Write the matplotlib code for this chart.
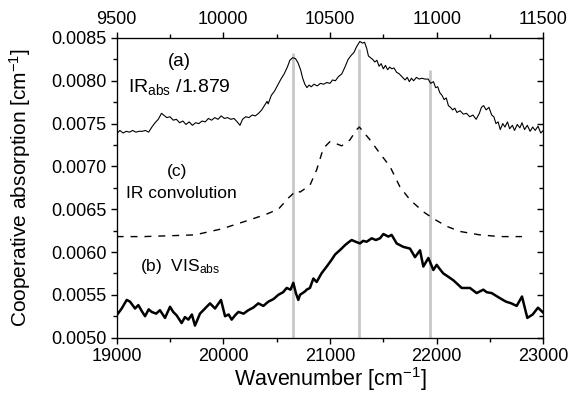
import numpy as np
import matplotlib
matplotlib.use('Agg')
import matplotlib.pyplot as plt
from matplotlib.ticker import MultipleLocator, FormatStrFormatter, NullFormatter

plt.rcParams['font.family'] = ['Liberation Sans', 'DejaVu Sans']
plt.rcParams['mathtext.fontset'] = 'custom'
plt.rcParams['mathtext.rm'] = 'Liberation Sans'
plt.rcParams['mathtext.default'] = 'regular'

# (a) IR absorption / 1.879, plotted against the top axis (9500-11500 cm-1)
ir_wn = [9500, 9515, 9530, 9545, 9560, 9575, 9590, 9605, 9620, 9635, 9650, 9665, 9680, 9695,
         9710, 9720, 9735, 9750, 9765, 9780, 9795, 9810, 9825, 9840, 9855, 9870, 9885, 9900,
         9915, 9930, 9945, 9960, 9975, 9990, 10005, 10020, 10035, 10050, 10065, 10078, 10090,
         10105, 10120, 10135, 10150, 10165, 10180, 10195, 10205, 10210, 10225, 10240, 10255,
         10270, 10285, 10300, 10312, 10325, 10338, 10350, 10362, 10372, 10382, 10392, 10402,
         10412, 10425, 10440, 10455, 10470, 10485, 10500, 10512, 10525, 10540, 10555, 10570,
         10585, 10600, 10612, 10625, 10640, 10652, 10662, 10672, 10680, 10690, 10700, 10710,
         10720, 10730, 10740, 10750, 10760, 10770, 10780, 10790, 10800, 10812, 10825, 10840,
         10852, 10862, 10872, 10882, 10892, 10905, 10918, 10930, 10945, 10960, 10972, 10985,
         10995, 11005, 11015, 11025, 11035, 11045, 11055, 11065, 11075, 11085, 11095, 11110,
         11125, 11140, 11155, 11170, 11185, 11200, 11210, 11220, 11232, 11245, 11258, 11268,
         11278, 11288, 11298, 11310, 11320, 11332, 11342, 11355, 11365, 11378, 11390, 11400,
         11412, 11425, 11438, 11450, 11462, 11475, 11488, 11500]
ir_abs = [0.00738, 0.00742, 0.00739, 0.00741, 0.00740, 0.00742, 0.00740, 0.00741, 0.00741,
          0.00742, 0.00740, 0.00746, 0.00751, 0.00755, 0.00762, 0.00760, 0.00757, 0.00758,
          0.00754, 0.00755, 0.00751, 0.00753, 0.00749, 0.00752, 0.00748, 0.00751, 0.00750,
          0.00753, 0.00752, 0.00756, 0.00754, 0.00757, 0.00755, 0.00759, 0.00756, 0.00757,
          0.00755, 0.00756, 0.00752, 0.00748, 0.00755, 0.00758, 0.00757, 0.00760, 0.00759,
          0.00762, 0.00766, 0.00772, 0.00776, 0.00773, 0.00783, 0.00788, 0.00795, 0.00802,
          0.00808, 0.00816, 0.00824, 0.00827, 0.00826, 0.00821, 0.00813, 0.00803, 0.00796,
          0.00792, 0.00795, 0.00793, 0.00796, 0.00794, 0.00797, 0.00796, 0.00798, 0.00797,
          0.00801, 0.00800, 0.00805, 0.00808, 0.00816, 0.00825, 0.00830, 0.00833, 0.00840,
          0.00846, 0.00844, 0.00845, 0.00838, 0.00829, 0.00827, 0.00825, 0.00822, 0.00824,
          0.00817, 0.00820, 0.00814, 0.00818, 0.00813, 0.00816, 0.00814, 0.00815, 0.00810,
          0.00808, 0.00804, 0.00801, 0.00804, 0.00799, 0.00803, 0.00800, 0.00804, 0.00802,
          0.00803, 0.00802, 0.00802, 0.00797, 0.00799, 0.00792, 0.00793, 0.00786, 0.00783,
          0.00778, 0.00780, 0.00771, 0.00769, 0.00766, 0.00768, 0.00763, 0.00765, 0.00761,
          0.00762, 0.00758, 0.00760, 0.00755, 0.00762, 0.00769, 0.00771, 0.00766, 0.00769,
          0.00760, 0.00758, 0.00750, 0.00752, 0.00743, 0.00750, 0.00746, 0.00752, 0.00744,
          0.00748, 0.00742, 0.00749, 0.00745, 0.00751, 0.00743, 0.00748, 0.00741, 0.00746,
          0.00742, 0.00747, 0.00739, 0.00742]

# (c) IR convolution, bottom axis
conv_wn = [19000, 19250, 19500, 19734, 19984, 20234, 20400, 20516, 20609, 20687, 20719, 20812,
           20875, 20937, 21000, 21050, 21109, 21187, 21250, 21275, 21375, 21469, 21562, 21656,
           21750, 21875, 21969, 22094, 22219, 22406, 22594, 22800]
conv = [0.00618, 0.00618, 0.00619, 0.00620, 0.00627, 0.00637, 0.00644, 0.00650, 0.00663,
        0.00672, 0.00670, 0.00678, 0.00696, 0.00721, 0.00729, 0.00727, 0.00724, 0.00731,
        0.00743, 0.00746, 0.00731, 0.00715, 0.00700, 0.00676, 0.00661, 0.00647, 0.00639,
        0.00630, 0.00624, 0.00620, 0.00618, 0.00618]

# (b) VIS absorption, bottom axis
vis_wn = [19000, 19047, 19094, 19125, 19172, 19203, 19235, 19266, 19300, 19328, 19370, 19406,
          19453, 19500, 19530, 19562, 19609, 19640, 19672, 19705, 19734, 19781, 19828, 19875,
          19922, 19978, 20016, 20050, 20078, 20110, 20141, 20190, 20234, 20280, 20328, 20375,
          20422, 20470, 20516, 20560, 20594, 20630, 20656, 20680, 20703, 20719, 20766, 20781,
          20812, 20844, 20875, 20920, 20969, 21010, 21047, 21100, 21141, 21170, 21203, 21240,
          21281, 21310, 21344, 21391, 21430, 21469, 21500, 21547, 21578, 21625, 21687, 21750,
          21797, 21844, 21875, 21922, 21969, 22000, 22030, 22062, 22110, 22156, 22200, 22234,
          22312, 22375, 22437, 22470, 22516, 22594, 22650, 22700, 22750, 22800, 22850, 22900,
          22950, 23000]
vis = [0.00526, 0.00534, 0.00544, 0.00542, 0.00534, 0.00538, 0.00531, 0.00525, 0.00533,
       0.00530, 0.00528, 0.00532, 0.00523, 0.00536, 0.00530, 0.00526, 0.00517, 0.00524,
       0.00521, 0.00527, 0.00514, 0.00528, 0.00534, 0.00540, 0.00534, 0.00544, 0.00525,
       0.00527, 0.00521, 0.00526, 0.00530, 0.00528, 0.00532, 0.00535, 0.00540, 0.00537,
       0.00542, 0.00545, 0.00550, 0.00553, 0.00558, 0.00556, 0.00564, 0.00552, 0.00544,
       0.00550, 0.00554, 0.00556, 0.00558, 0.00569, 0.00565, 0.00575, 0.00583, 0.00590,
       0.00597, 0.00603, 0.00608, 0.00611, 0.00614, 0.00612, 0.00610, 0.00613, 0.00612,
       0.00616, 0.00614, 0.00616, 0.00621, 0.00618, 0.00620, 0.00610, 0.00606, 0.00604,
       0.00594, 0.00602, 0.00583, 0.00593, 0.00579, 0.00585, 0.00580, 0.00575, 0.00571,
       0.00567, 0.00562, 0.00558, 0.00558, 0.00552, 0.00556, 0.00553, 0.00552, 0.00546,
       0.00542, 0.00540, 0.00537, 0.00548, 0.00523, 0.00527, 0.00535, 0.00529]

# grey marker lines (bottom axis wavenumber, top of line)
mark_wn = [20656, 21270, 21940]
mark_top = [0.00832, 0.00837, 0.00813]

fig = plt.figure(figsize=(5.70, 3.97), dpi=100)
ax = fig.add_axes([0.2047, 0.1496, 0.7485, 0.7547])

ax.vlines(mark_wn, 0.0050, mark_top, color='#c8c8c8', lw=2.0, zorder=1)
ax.plot(conv_wn, conv, color='black', lw=1.0, dashes=(5, 5), zorder=2)
ax.plot(vis_wn, vis, color='black', lw=1.8, zorder=3)

ax.set_xlim(19000, 23000)
ax.set_ylim(0.0050, 0.0085)
ax.xaxis.set_major_locator(MultipleLocator(1000))
ax.xaxis.set_minor_locator(MultipleLocator(500))
ax.yaxis.set_major_locator(MultipleLocator(0.0005))
ax.yaxis.set_minor_locator(MultipleLocator(0.00025))
ax.yaxis.set_major_formatter(FormatStrFormatter('%.4f'))
ax.tick_params(which='both', direction='out', labelsize=13, width=1)
ax.tick_params(which='major', length=4)
ax.tick_params(which='minor', length=3)

ax.set_xlabel('Wavenumber [cm$^{-1}$]', fontsize=15.5, labelpad=0)
ax.set_ylabel('Cooperative absorption [cm$^{-1}$]', fontsize=15)
ax.yaxis.set_label_coords(-0.195, 0.5)

# right-hand ticks point inward
rt = ax.twinx()
rt.set_ylim(0.0050, 0.0085)
rt.yaxis.set_major_locator(MultipleLocator(0.0005))
rt.yaxis.set_minor_locator(MultipleLocator(0.00025))
rt.yaxis.set_major_formatter(NullFormatter())
rt.tick_params(which='both', direction='in', width=1)
rt.tick_params(which='major', length=4)
rt.tick_params(which='minor', length=3)

top = ax.twiny()
top.plot(ir_wn, ir_abs, color='black', lw=0.8, zorder=4)
top.set_xlim(9500, 11500)
top.xaxis.set_major_locator(MultipleLocator(500))
top.xaxis.set_minor_locator(MultipleLocator(250))
top.tick_params(which='both', direction='out', labelsize=13, width=1)
top.tick_params(which='major', length=4)
top.tick_params(which='minor', length=3)

ax.text(0.148, 0.92, '(a)', transform=ax.transAxes, fontsize=13.5, ha='center', va='center')
ax.text(0.027, 0.837, 'IR$_{abs}$ /1.879', transform=ax.transAxes, fontsize=14, va='center')
ax.text(0.141, 0.554, '(c)', transform=ax.transAxes, fontsize=12.5, ha='center', va='center')
ax.text(0.023, 0.482, 'IR convolution', transform=ax.transAxes, fontsize=12.5, va='center')
ax.text(0.055, 0.237, '(b)  VIS$_{abs}$', transform=ax.transAxes, fontsize=12.5, va='center')

fig.savefig('out.png', dpi=100)
